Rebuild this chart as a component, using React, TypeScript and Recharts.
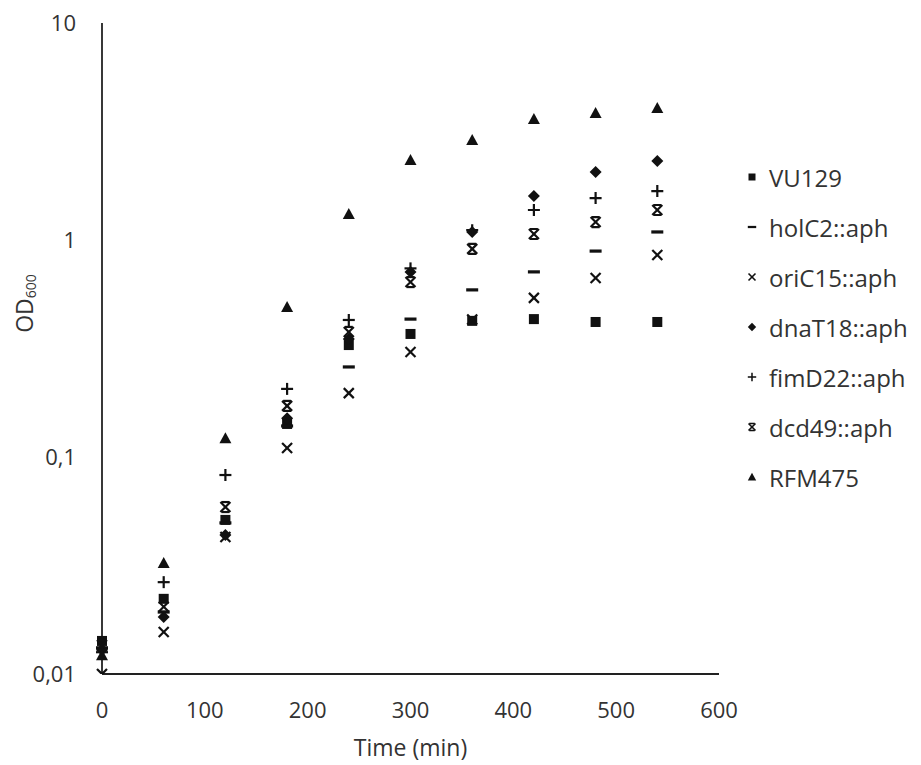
import React from 'react'
import { ScatterChart, Scatter, XAxis, YAxis, Label } from 'recharts'

// time points (min)
const times = [0, 60, 120, 180, 240, 300, 360, 420, 480, 540]

// OD600 per strain
const vu129 = [0.0142, 0.0222, 0.0513, 0.142, 0.328, 0.369, 0.424, 0.432, 0.419, 0.419]
const holC2 = [0.0132, 0.0193, 0.0497, 0.139, 0.26, 0.432, 0.589, 0.713, 0.889, 1.089]
const oriC15 = [0.01, 0.0156, 0.0428, 0.11, 0.197, 0.305, 0.43, 0.541, 0.668, 0.853]
const dnaT18 = [0.0129, 0.0183, 0.0437, 0.151, 0.35, 0.713, 1.089, 1.595, 2.06, 2.31]
const fimD22 = [0.0126, 0.0265, 0.0826, 0.206, 0.428, 0.74, 1.11, 1.375, 1.56, 1.68]
const dcd49 = [0.0136, 0.0204, 0.0588, 0.172, 0.377, 0.64, 0.91, 1.066, 1.21, 1.375]
const rfm475 = [0.0122, 0.0325, 0.122, 0.491, 1.318, 2.34, 2.89, 3.61, 3.85, 4.06]

const xTicks = [0, 100, 200, 300, 400, 500, 600]
const yTicks = [0.01, 0.1, 1, 10]

type Kind = 'square' | 'dash' | 'x' | 'diamond' | 'plus' | 'star' | 'triangle'

const series: { name: string; values: number[]; kind: Kind }[] = [
  { name: 'VU129', values: vu129, kind: 'square' },
  { name: 'holC2::aph', values: holC2, kind: 'dash' },
  { name: 'oriC15::aph', values: oriC15, kind: 'x' },
  { name: 'dnaT18::aph', values: dnaT18, kind: 'diamond' },
  { name: 'fimD22::aph', values: fimD22, kind: 'plus' },
  { name: 'dcd49::aph', values: dcd49, kind: 'star' },
  { name: 'RFM475', values: rfm475, kind: 'triangle' },
]

const INK = '#111'
const TEXT = '#333'

function Marker({ kind, cx, cy, s = 1 }: { kind: Kind; cx: number; cy: number; s?: number }) {
  const r = 5 * s
  const sw = 2.2 * s
  switch (kind) {
    case 'square':
      return <rect x={cx - r} y={cy - r} width={2 * r} height={2 * r} fill={INK} />
    case 'dash':
      return <rect x={cx - 6 * s} y={cy - 1.6 * s} width={12 * s} height={3.2 * s} fill={INK} />
    case 'x':
      return (
        <g stroke={INK} strokeWidth={sw}>
          <line x1={cx - r} y1={cy - r} x2={cx + r} y2={cy + r} />
          <line x1={cx - r} y1={cy + r} x2={cx + r} y2={cy - r} />
        </g>
      )
    case 'diamond':
      return <polygon points={`${cx},${cy - 6 * s} ${cx + 6 * s},${cy} ${cx},${cy + 6 * s} ${cx - 6 * s},${cy}`} fill={INK} />
    case 'plus':
      return (
        <g stroke={INK} strokeWidth={sw}>
          <line x1={cx - 6 * s} y1={cy} x2={cx + 6 * s} y2={cy} />
          <line x1={cx} y1={cy - 6 * s} x2={cx} y2={cy + 6 * s} />
        </g>
      )
    case 'star':
      return (
        <g stroke={INK} strokeWidth={sw}>
          <line x1={cx - r} y1={cy - r} x2={cx + r} y2={cy + r} />
          <line x1={cx - r} y1={cy + r} x2={cx + r} y2={cy - r} />
          <line x1={cx - r * 0.8} y1={cy - r} x2={cx + r * 0.8} y2={cy - r} />
          <line x1={cx - r * 0.8} y1={cy + r} x2={cx + r * 0.8} y2={cy + r} />
        </g>
      )
    case 'triangle':
      return <polygon points={`${cx},${cy - 6 * s} ${cx + 6 * s},${cy + 5 * s} ${cx - 6 * s},${cy + 5 * s}`} fill={INK} />
  }
  return null
}

const fmtY = (v: number) => String(v).replace('.', ',')

const YTitle = (props: any) => {
  const vb = props.viewBox
  const x = 24
  const y = vb.y + vb.height / 2 - 45
  return (
    <text x={x} y={y} transform={`rotate(-90, ${x}, ${y})`} textAnchor="middle" dominantBaseline="central"
      fill={TEXT} fontSize={23}>
      OD<tspan fontSize={14} dy={6}>600</tspan>
    </text>
  )
}

export default function App() {
  const tickStyle = { fill: TEXT, fontSize: 22 }
  return (
    <div style={{ position: 'absolute', left: 0, top: 0, width: 921, height: 765, background: '#fff', fontFamily: '"Open Sans", sans-serif' }}>
      <ScatterChart width={921} height={765} margin={{ top: 23, right: 202, bottom: 0, left: 0 }}>
        <XAxis type="number" dataKey="t" domain={[0, 600]} ticks={xTicks} tickSize={0} tickMargin={28}
          tick={tickStyle} axisLine={{ stroke: '#222', strokeWidth: 1.8 }} tickLine={false} height={91}>
          <Label value="Time (min)" position="insideBottom" offset={9} fill={TEXT} fontSize={23} />
        </XAxis>
        <YAxis type="number" dataKey="od" scale="log" domain={[0.01, 10]} ticks={yTicks} allowDataOverflow
          tickFormatter={fmtY} tickSize={0} tickMargin={26} tick={tickStyle} width={102}
          axisLine={{ stroke: '#222', strokeWidth: 1.8 }} tickLine={false}>
          <Label content={YTitle} />
        </YAxis>
        {series.map((s) => (
          <Scatter key={s.name} name={s.name} data={times.map((t, i) => ({ t, od: s.values[i] }))}
            isAnimationActive={false}
            shape={(p: any) => <Marker kind={s.kind} cx={p.cx} cy={p.cy} />} />
        ))}
      </ScatterChart>
      <div style={{ position: 'absolute', left: 745, top: 152 }}>
        {series.map((s) => (
          <div key={s.name} style={{ display: 'flex', alignItems: 'center', height: 50 }}>
            <svg width={14} height={14}>
              <Marker kind={s.kind} cx={7} cy={7} s={0.7} />
            </svg>
            <span style={{ marginLeft: 10, fontSize: 24, color: TEXT }}>{s.name}</span>
          </div>
        ))}
      </div>
    </div>
  )
}
